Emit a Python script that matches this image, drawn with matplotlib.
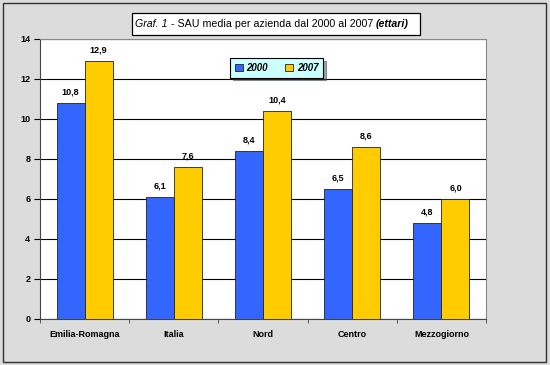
import matplotlib
matplotlib.use("Agg")
import matplotlib.pyplot as plt
import numpy as np
from matplotlib.patches import Rectangle
from matplotlib.text import Annotation

categories = ["Emilia-Romagna", "Italia", "Nord", "Centro", "Mezzogiorno"]
years = ["2000", "2007"]
v2000 = [10.8, 6.1, 8.4, 6.5, 4.8]
v2007 = [12.9, 7.6, 10.4, 8.6, 6.0]
yticks = [0, 2, 4, 6, 8, 10, 12, 14]

plt.rcParams['font.family'] = ['Liberation Sans', 'DejaVu Sans']

W, H = 550, 365
fig = plt.figure(figsize=(5.5, 3.65), dpi=100)
fig.patch.set_facecolor('#dcdcdc')
# outer border
fig.patches.append(Rectangle((3/W, 3/H), 543/W, 359/H, transform=fig.transFigure,
                             fill=False, edgecolor='#333333', linewidth=1.0, zorder=-1))

ax = fig.add_axes([40/W, 1 - 319/H, 446/W, 280/H])
ax.set_facecolor('white')
x = np.arange(len(categories))
bw = 0.315
ax.bar(x - bw/2, v2000, bw, color='#3366ff', edgecolor='#222222', linewidth=0.6, label=years[0], zorder=3)
ax.bar(x + bw/2, v2007, bw, color='#ffcc00', edgecolor='#222222', linewidth=0.6, label=years[1], zorder=3)

for xi, v in zip(x - bw/2, v2000):
    ax.text(xi, v + 0.35, f"{v:.1f}".replace('.', ','), ha='center', va='bottom',
            fontsize=6.5, fontweight='bold')
for xi, v in zip(x + bw/2, v2007):
    ax.text(xi, v + 0.35, f"{v:.1f}".replace('.', ','), ha='center', va='bottom',
            fontsize=6.5, fontweight='bold')

ax.set_xlim(-0.5, len(categories) - 0.5)
ax.set_ylim(0, 14)
ax.set_yticks(yticks)
ax.set_yticklabels([str(t) for t in yticks], fontsize=6.5, fontweight='bold')
ax.yaxis.grid(True, color='black', linewidth=0.8, zorder=0)
ax.set_axisbelow(True)
ax.set_xticks(x)
ax.set_xticklabels(categories, fontsize=6.5, fontweight='bold')
ax.tick_params(axis='x', length=0, pad=8)
ax.set_xticks(np.arange(-0.5, len(categories), 1.0), minor=True)
ax.tick_params(axis='x', which='minor', length=3, direction='out', color='#444444')
ax.tick_params(axis='y', length=4, direction='out', pad=3)
for s in ['top', 'right']:
    ax.spines[s].set_color('#888888')
    ax.spines[s].set_linewidth(0.8)
ax.spines['left'].set_color('#444444')
ax.spines['bottom'].set_color('#444444')

# legend
leg = ax.legend(loc='upper left', bbox_to_anchor=((225 - 40)/446, 1 - (53 - 39)/280),
                ncol=2, frameon=True, fancybox=False, shadow=True,
                prop={'weight': 'bold', 'style': 'italic', 'size': 7},
                handlelength=0.8, handleheight=0.8, columnspacing=1.8, handletextpad=0.4,
                borderpad=0.5)
leg.get_frame().set_facecolor('#ccffff')
leg.get_frame().set_edgecolor('black')
leg.get_frame().set_linewidth(0.8)
leg.get_frame().set_alpha(1)

# title box
fig.patches.append(Rectangle((132/W, 1 - 35/H), 288/W, 22/H, transform=fig.transFigure,
                             facecolor='white', edgecolor='black', linewidth=0.9, zorder=1))
t1 = fig.text(135/W, 1 - 24/H, "Graf. 1", fontsize=7.7, style='italic', va='center',
              ha='left', zorder=5)
t2 = Annotation(" - SAU media per azienda dal 2000 al 2007 ", xy=(1, 0), xycoords=t1,
                va='bottom', ha='left', fontsize=7.7, annotation_clip=False, zorder=5)
fig.add_artist(t2)
t3 = Annotation("(ettari)", xy=(1, 0), xycoords=t2, va='bottom', ha='left',
                fontsize=7.7, style='italic', fontweight='bold', annotation_clip=False, zorder=5)
fig.add_artist(t3)

fig.savefig("out.png", dpi=100, facecolor=fig.get_facecolor())
